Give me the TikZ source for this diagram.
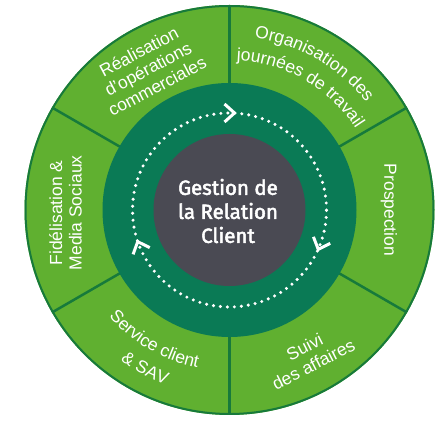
\documentclass[tikz,border=0pt]{standalone}
\usepackage{fontspec}
\setmainfont{Liberation Sans}
\newfontfamily\cfont{Fira Sans}[FakeBold=2.5]
\usetikzlibrary{decorations.text,calc}
\definecolor{lgreen}{HTML}{60B030}
\definecolor{dgreen}{HTML}{0A7A55}
\definecolor{lineg}{HTML}{177A3B}
\definecolor{cgray}{HTML}{4A4A53}
\newcommand\labfont{\fontsize{17.5}{20}\selectfont}
\tikzset{
  lab/.style={text=white, font=\fontsize{17.5}{19.5}\selectfont, align=center, inner sep=0pt},
  divider/.style={draw=lineg, line width=2.5pt},
  chev/.style={draw=white, line width=3pt, line join=miter},
  curved/.style={decorate, decoration={text along path, text align=center, text color=white, text={|\labfont|#1}}},
}
\begin{document}
\begin{tikzpicture}[x=1pt,y=1pt]
\useasboundingbox (0,0) rectangle (445,422);
\coordinate (C) at (229.5,212);
\fill[lgreen] (C) circle (205);
\foreach \a in {30,90,...,330} \draw[divider] ($(C)+(\a:126)$) -- ($(C)+(\a:205)$);
\draw[lineg, line width=2pt] (C) circle (204);
\fill[dgreen] (C) circle (127);
\node[circle, fill=cgray, minimum size=152, inner sep=0pt] (core) at (C) {};
\node[text=white, font=\cfont\fontsize{20.5}{24}\selectfont, align=center] (title) at ($(C)+(-1.5,-1)$) {Gestion de\\la Relation\\Client};
\draw[white, line width=3.4pt, line cap=round, dash pattern=on 0pt off 7pt] (C) circle (97);
\foreach \t in {90,-21,202} {
  \begin{scope}[shift={(C)}, rotate=\t-90]
    \draw[chev] (-5,106) -- (5,97) -- (-5,88);
  \end{scope}
}
\node[lab, rotate=28] (real) at ($(C)+(120:163)$) {Réalisation\\d’opérations\\commerciales};
\node[lab, rotate=-90] (prosp) at ($(C)+(0:159.5)$) {Prospection};
\node[lab, rotate=90] (fidel) at ($(C)+(181:164)$) {Fidélisation \&\\Media Sociaux};
\node[lab, rotate=27] (suivi) at ($(C)+(-61.4:166)$) {Suivi\\des affaires};
\path[curved={Organisation des}] ($(C)+(100:174)$) arc[start angle=100, end angle=20, radius=174];
\path[curved={journées de travail}] ($(C)+(100:150)$) arc[start angle=100, end angle=20, radius=150];
\path[curved={Service client}] ($(C)+(200:161)$) arc[start angle=200, end angle=280, radius=161];
\path[curved={{\&} SAV}] ($(C)+(202:186)$) arc[start angle=202, end angle=282, radius=186];
\end{tikzpicture}
\end{document}
